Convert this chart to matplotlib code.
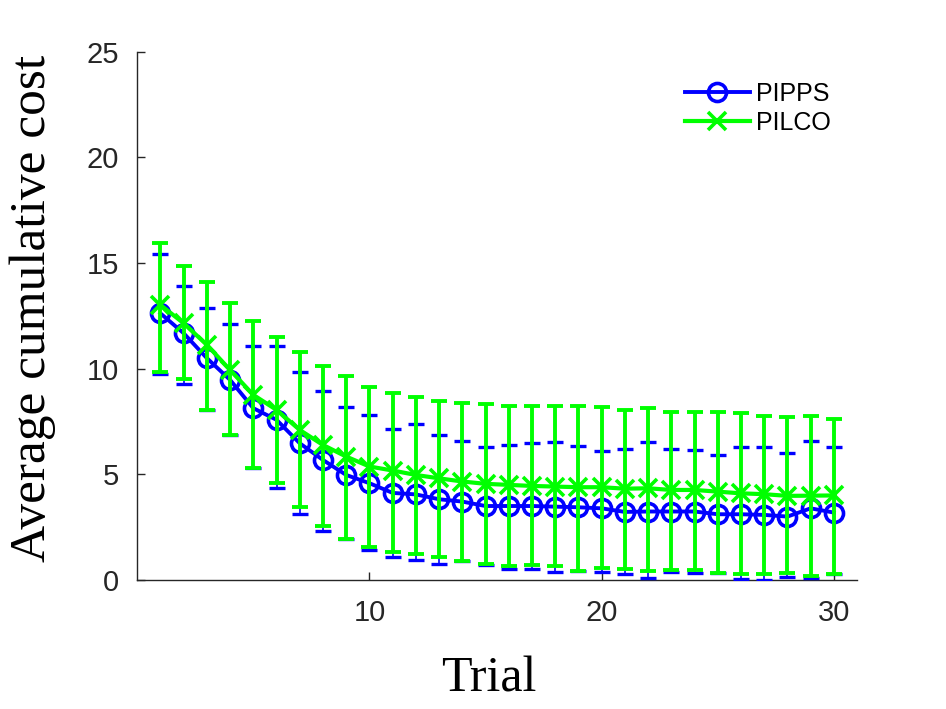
import matplotlib
matplotlib.use("Agg")
import matplotlib.pyplot as plt
import numpy as np

# trial index and results
trials = np.arange(1, 31)

pipps_mean = [12.62, 11.68, 10.50, 9.47, 8.13, 7.58, 6.47, 5.68, 4.97, 4.58,
              4.12, 4.05, 3.82, 3.71, 3.50, 3.50, 3.50, 3.47, 3.44, 3.39,
              3.22, 3.24, 3.24, 3.24, 3.11, 3.11, 3.08, 3.00, 3.39, 3.19]
pipps_high = [15.44, 13.92, 12.85, 12.11, 11.09, 11.08, 9.86, 8.95, 8.18, 7.80,
              7.13, 7.39, 6.87, 6.60, 6.31, 6.39, 6.47, 6.53, 6.36, 6.11,
              6.19, 6.52, 6.20, 6.16, 5.92, 6.27, 6.31, 6.00, 6.60, 6.28]
pipps_low = [9.75, 9.28, 8.05, 6.85, 5.29, 4.34, 3.11, 2.32, 1.93, 1.42,
             1.07, 0.95, 0.77, 0.88, 0.72, 0.52, 0.52, 0.39, 0.44, 0.39,
             0.28, 0.11, 0.36, 0.32, 0.35, 0.06, 0.02, 0.16, 0.07, 0.27]

pilco_mean = [13.02, 12.15, 11.13, 9.94, 8.76, 8.05, 7.10, 6.39, 5.84, 5.37,
              5.18, 4.97, 4.81, 4.66, 4.55, 4.50, 4.45, 4.42, 4.39, 4.39,
              4.32, 4.34, 4.26, 4.26, 4.18, 4.10, 4.06, 3.98, 3.99, 4.00]
pilco_high = [15.97, 14.87, 14.08, 13.10, 12.28, 11.52, 10.80, 10.13, 9.66, 9.15,
              8.87, 8.65, 8.49, 8.36, 8.32, 8.25, 8.21, 8.21, 8.25, 8.18,
              8.06, 8.13, 7.97, 7.97, 7.97, 7.92, 7.77, 7.73, 7.77, 7.62]
pilco_low = [9.86, 9.50, 8.05, 6.87, 5.29, 4.58, 3.47, 2.56, 1.93, 1.58,
             1.34, 1.22, 1.07, 0.90, 0.74, 0.66, 0.71, 0.66, 0.44, 0.58,
             0.51, 0.43, 0.47, 0.47, 0.35, 0.28, 0.28, 0.32, 0.20, 0.27]

x_ticks = [10, 20, 30]
y_ticks = [0, 5, 10, 15, 20, 25]

BLUE = "#0000ff"
GREEN = "#00ff00"
AXIS_GRAY = "#262626"


def asym_err(mean, low, high):
    mean, low, high = np.asarray(mean), np.asarray(low), np.asarray(high)
    return [mean - low, high - mean]


plt.rcParams["font.family"] = ["Liberation Sans", "DejaVu Sans"]

fig = plt.figure(figsize=(9.46, 7.09), dpi=100)
ax = fig.add_axes([0.145, 0.182, 0.761, 0.745])

ax.plot(trials, pipps_mean, "-o", color=BLUE, lw=2.8, ms=13, mfc="none",
        mew=2.6, label="PIPPS", zorder=2)
ax.errorbar(trials, pipps_mean, yerr=asym_err(pipps_mean, pipps_low, pipps_high),
            fmt="none", ecolor=BLUE, elinewidth=1.2, capsize=5.5, capthick=2.4,
            zorder=3)
ax.errorbar(trials, pilco_mean, yerr=asym_err(pilco_mean, pilco_low, pilco_high),
            fmt="none", ecolor=GREEN, elinewidth=2.8, capsize=6, capthick=2.8,
            zorder=4)
ax.plot(trials, pilco_mean, "-x", color=GREEN, lw=3, ms=13, mew=2.6,
        label="PILCO", zorder=5)

ax.set_xlim(0, 31)
ax.set_ylim(0, 25)
ax.set_xticks(x_ticks)
ax.set_yticks(y_ticks)
for side in ("top", "right"):
    ax.spines[side].set_visible(False)
for side in ("left", "bottom"):
    ax.spines[side].set_color(AXIS_GRAY)
    ax.spines[side].set_linewidth(1.0)
ax.tick_params(direction="in", length=6, width=1.0, colors=AXIS_GRAY,
               labelsize=21)
ax.tick_params(axis="y", pad=13)
ax.tick_params(axis="x", pad=14)

leg = ax.legend(loc="upper right", frameon=False, fontsize=18,
                handlelength=2.6, handletextpad=0.25, labelspacing=0.2,
                borderpad=0.4, bbox_to_anchor=(0.995, 0.986))

fig.text(33 / 946, 1 - 308 / 709, "Average cumulative cost", rotation=90,
         ha="center", va="center", fontsize=37, family="Liberation Serif")
fig.text(489 / 946, 1 - 692 / 709, "Trial", ha="center", va="baseline",
         fontsize=36, family="Liberation Serif")

fig.savefig("out.png", dpi=100)
